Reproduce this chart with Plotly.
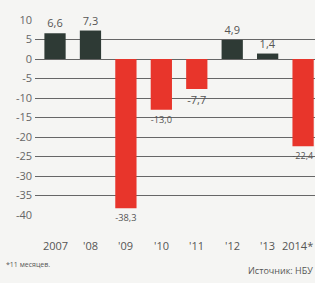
import plotly.graph_objects as go

categories = ["2007", "'08", "'09", "'10", "'11", "'12", "'13", "2014*"]
values = [6.6, 7.3, -38.3, -13.0, -7.7, 4.9, 1.4, -22.4]
y_ticks = [10, 5, 0, -5, -10, -15, -20, -25, -30, -35, -40]

DARK = "#2e3a35"
RED = "#e8352b"

colors = [DARK if v >= 0 else RED for v in values]
labels = [f"{v:.1f}".replace(".", ",") for v in values]
xs = list(range(len(categories)))

fig = go.Figure()
fig.add_trace(go.Bar(
    x=xs, y=values, width=0.6,
    marker=dict(color=colors, line=dict(width=0)),
    text=labels, textposition="outside",
    textfont=dict(family="Open Sans", size=11, color="#555555"),
    cliponaxis=False, hoverinfo="skip",
))

annotations = []
for x, c in zip(xs, categories):
    last = x == xs[-1]
    annotations.append(dict(
        text=c, x=1.0 if last else x, y=-0.154,
        xref="paper" if last else "x", yref="paper",
        xanchor="right" if last else "center", yanchor="middle", showarrow=False,
        font=dict(family="Open Sans", size=11, color="#555555")))
annotations += [
    dict(text="*11 месяцев.", x=-0.11, y=-0.256, xref="paper", yref="paper",
         xanchor="left", yanchor="middle", showarrow=False,
         font=dict(family="Open Sans", size=7, color="#555555")),
    dict(text="Источник: НБУ", x=1.0, y=-0.287, xref="paper", yref="paper",
         xanchor="right", yanchor="middle", showarrow=False,
         font=dict(family="Open Sans", size=9, color="#555555")),
]

fig.update_layout(
    width=315, height=283,
    margin=dict(l=35, r=0, t=20, b=68),
    paper_bgcolor="#f5f5f3", plot_bgcolor="#f5f5f3",
    showlegend=False,
    bargap=0.4,
    xaxis=dict(
        range=[-0.565, 7.336],
        showticklabels=False,
        showgrid=False, zeroline=False, showline=False, ticks="",
    ),
    yaxis=dict(
        range=[-40, 10],
        tickvals=y_ticks, ticktext=[str(t) for t in y_ticks],
        showgrid=True, gridcolor="#666666", gridwidth=1,
        zeroline=True, zerolinecolor="#666666", zerolinewidth=1,
        ticks="", ticklabelstandoff=2,
        tickfont=dict(family="Open Sans", size=11, color="#666666"),
    ),
    annotations=annotations,
)

fig.write_html("out.html", config={"displayModeBar": False},
               post_script="document.body.style.margin='0';document.body.style.overflow='hidden';")
